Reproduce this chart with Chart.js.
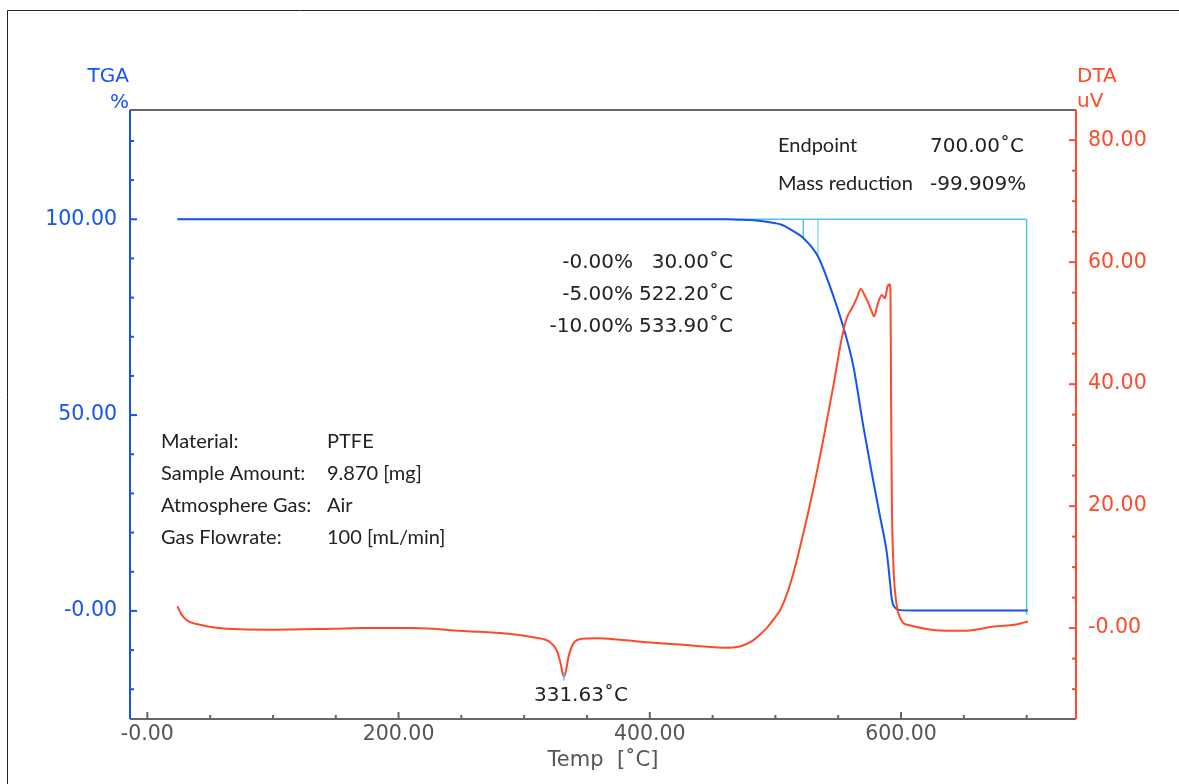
<!DOCTYPE html>
<html>
<head>
<meta charset="utf-8">
<script src="https://cdn.jsdelivr.net/npm/chart.js@4.4.1/dist/chart.umd.min.js"></script>
<style>
  html, body { margin: 0; padding: 0; background: #fff; overflow: hidden; }
  canvas { display: block; }
</style>
</head>
<body>
<canvas id="chart" width="1179" height="784"></canvas>
<script>
// TGA curve: [temp °C, mass %]
const tgaPoints = [
  [23.9, 100], [100, 100], [200, 100], [300, 100], [400, 100], [460, 100],
  [470, 99.9], [480, 99.8], [490, 99.5], [500, 99.0], [505, 98.6], [511.6, 97.5],
  [522.3, 95.2], [533.9, 90.5], [543.5, 82.8], [555.5, 70.9], [562.1, 62.4],
  [570, 47.1], [576.7, 35.2], [583.3, 24.1], [588.7, 14.8], [591.3, 7.1],
  [592.7, 2.9], [595.3, 0.8], [599.3, 0.2], [610, 0.1], [701, 0.1]
];

// DTA curve: [temp °C, uV]
const dtaPoints = [
  [23.9, 3.6], [27, 2.3], [31.4, 1.3], [42, 0.55], [55, 0.05], [74, -0.2],
  [100, -0.25], [148, -0.1], [172, 0], [211, 0], [254, -0.5], [281, -0.8],
  [307, -1.5], [320.6, -2.3], [326, -3.7], [329, -5.8], [331.6, -8.0],
  [333.5, -6.8], [335.2, -4.8], [339.2, -2.5], [345.8, -1.75], [358, -1.65],
  [376, -1.9], [397.5, -2.3], [424, -2.7], [458.5, -3.2], [471.7, -3.0],
  [477, -2.6], [482.3, -2.0], [488, -1.0], [493, 0.0], [498, 1.3], [503.6, 2.9],
  [509, 5.5], [514.3, 9.0], [522.3, 15.6], [530.2, 22.8], [538.2, 31.0],
  [546.2, 39.8], [552.8, 47.5], [556.8, 50.8], [560.8, 52.4], [564.8, 54.1],
  [568, 55.6], [571.4, 54.4], [574, 53.3], [576.5, 52.0], [578.6, 51.1],
  [581.2, 53.0], [584.7, 54.6], [587.3, 54.1], [589.2, 56.0], [590.8, 56.4],
  [591.6, 55.0], [592.1, 37.6], [592.7, 21.1], [594, 10.1], [596.7, 3.6],
  [599, 1.8], [602, 0.8], [606, 0.5], [626, -0.3], [650, -0.45],
  [674, 0.25], [692.7, 0.65], [701, 1.1]
];

// analysis marker lines (cyan)
const baseLine = [[23.9, 100], [700, 100]];
const step5 = [[522.2, 100], [522.2, 95.0]];
const step10 = [[533.9, 100], [533.9, 90.5]];
const endLine = [[700, 100], [700, -1.0]];
const peakMark = [[331.63, -7.2], [331.63, -8.6]];

const xRange = [-13.8, 739.3];
const tgaRange = [-27.6, 127.9];
const dtaRange = [-14.9, 84.95];

const infoLabels = ['Material:', 'Sample Amount:', 'Atmosphere Gas:', 'Gas Flowrate:'];
const infoValues = ['PTFE', '9.870 [mg]', 'Air', '100 [mL/min]'];
const stepPercents = ['-0.00%', '-5.00%', '-10.00%'];
const stepTemps = ['30.00˚C', '522.20˚C', '533.90˚C'];
const endLabels = ['Endpoint', 'Mass reduction'];
const endValues = ['700.00˚C', '-99.909%'];
const peakLabel = '331.63˚C';

const BLUE = '#1553f2';
const RED = '#ff4a2a';
const CYAN = '#4fc3ee';
const GRAY = '#555';
const NUM_FONT = '20px "DejaVu Sans"';
const TXT_FONT = '20px Lato';
const TICK_FONT = { family: 'DejaVu Sans', size: 20.5 };

const xy = pts => pts.map(p => ({ x: p[0], y: p[1] }));
const fmt = v => (v === 0 ? '-0.00' : v.toFixed(2));

function curve(data, axis, color, width) {
  return { data: xy(data), yAxisID: axis, borderColor: color, borderWidth: width,
    showLine: true, pointRadius: 0, fill: false, cubicInterpolationMode: 'monotone' };
}

const axesPlugin = {
  id: 'axesPlugin',
  afterDatasetsDraw(chart) {
    const ctx = chart.ctx;
    const a = chart.chartArea;
    const sx = chart.scales.x, yl = chart.scales.y, yr = chart.scales.y2;
    ctx.save();
    ctx.lineWidth = 2;
    // top frame + bottom axis
    ctx.strokeStyle = '#666';
    ctx.beginPath();
    ctx.moveTo(a.left, a.top); ctx.lineTo(a.right, a.top);
    ctx.moveTo(a.left, a.bottom); ctx.lineTo(a.right, a.bottom);
    ctx.stroke();
    sx.ticks.forEach(t => {
      const px = sx.getPixelForValue(t.value);
      const len = t.value % 200 === 0 ? 7 : 4;
      ctx.beginPath(); ctx.moveTo(px, a.bottom); ctx.lineTo(px, a.bottom - len); ctx.stroke();
    });
    // left axis
    ctx.strokeStyle = BLUE;
    ctx.beginPath(); ctx.moveTo(a.left, a.top); ctx.lineTo(a.left, a.bottom); ctx.stroke();
    yl.ticks.forEach(t => {
      const py = yl.getPixelForValue(t.value);
      const len = t.value % 50 === 0 ? 7 : 4;
      ctx.beginPath(); ctx.moveTo(a.left, py); ctx.lineTo(a.left + len, py); ctx.stroke();
    });
    // right axis
    ctx.strokeStyle = RED;
    ctx.beginPath(); ctx.moveTo(a.right, a.top); ctx.lineTo(a.right, a.bottom); ctx.stroke();
    yr.ticks.forEach(t => {
      const py = yr.getPixelForValue(t.value);
      const len = t.value % 20 === 0 ? 7 : 4;
      ctx.beginPath(); ctx.moveTo(a.right, py); ctx.lineTo(a.right - len, py); ctx.stroke();
    });
    ctx.restore();
  },
  afterDraw(chart) {
    const ctx = chart.ctx;
    const a = chart.chartArea;
    ctx.save();
    // outer frame
    ctx.strokeStyle = '#222';
    ctx.lineWidth = 1;
    ctx.beginPath();
    ctx.moveTo(7.5, 790); ctx.lineTo(7.5, 10.5); ctx.lineTo(1190, 10.5);
    ctx.stroke();

    ctx.font = '20px "DejaVu Sans"';
    ctx.fillStyle = BLUE;
    ctx.textAlign = 'right';
    ctx.fillText('TGA', a.left - 1, 82);
    ctx.fillText('%', a.left - 1, 108);
    ctx.fillStyle = RED;
    ctx.textAlign = 'left';
    ctx.fillText('DTA', a.right + 1, 82);
    ctx.fillText('uV', a.right + 1, 107);
    ctx.fillStyle = GRAY;
    ctx.textAlign = 'center';
    ctx.font = '21px "DejaVu Sans"';
    ctx.fillText('Temp  [˚C]', 603, 766);

    ctx.fillStyle = '#222';
    ctx.font = TXT_FONT;
    ctx.textAlign = 'left';
    endLabels.forEach((s, i) => ctx.fillText(s, 778, 152 + i * 38));
    infoLabels.forEach((s, i) => ctx.fillText(s, 161, 448 + i * 32));
    infoValues.forEach((s, i) => ctx.fillText(s, 327, 448 + i * 32));

    ctx.font = NUM_FONT;
    endValues.forEach((s, i) => ctx.fillText(s, 930, 152 + i * 38));
    ctx.textAlign = 'right';
    stepPercents.forEach((s, i) => ctx.fillText(s, 633, 268 + i * 32));
    stepTemps.forEach((s, i) => ctx.fillText(s, 733, 268 + i * 32));
    ctx.textAlign = 'center';
    ctx.fillText(peakLabel, chart.scales.x.getPixelForValue(331.63) + 17, 701);
    ctx.restore();
  }
};

// Chart.js paints dataset 0 last (on top)
new Chart(document.getElementById('chart'), {
  type: 'scatter',
  data: {
    datasets: [
      curve(peakMark, 'y2', CYAN, 1.5),
      curve(dtaPoints, 'y2', RED, 2),
      curve(tgaPoints, 'y', BLUE, 2),
      curve(step10, 'y', CYAN, 1),
      curve(step5, 'y', CYAN, 1.5),
      curve(endLine, 'y', CYAN, 1.5),
      curve(baseLine, 'y', CYAN, 1.5)
    ]
  },
  options: {
    responsive: false,
    animation: false,
    layout: { padding: { top: 110, left: 0, right: 0, bottom: 0 } },
    plugins: { legend: { display: false }, tooltip: { enabled: false } },
    scales: {
      x: {
        type: 'linear', min: xRange[0], max: xRange[1],
        grid: { display: false, drawTicks: false }, border: { display: false },
        afterFit: s => { s.height = 65; },
        ticks: {
          stepSize: 50, includeBounds: false, autoSkip: false, maxRotation: 0, padding: 3,
          color: GRAY, font: TICK_FONT,
          callback: v => (v % 200 === 0 ? fmt(v) : '')
        }
      },
      y: {
        type: 'linear', position: 'left', min: tgaRange[0], max: tgaRange[1],
        grid: { display: false, drawTicks: false }, border: { display: false },
        afterFit: s => { s.width = 130; },
        ticks: {
          stepSize: 10, includeBounds: false, autoSkip: false, padding: 13,
          color: BLUE, font: TICK_FONT,
          callback: v => (v % 50 === 0 ? fmt(v) : '')
        }
      },
      y2: {
        type: 'linear', position: 'right', min: dtaRange[0], max: dtaRange[1],
        grid: { display: false, drawTicks: false }, border: { display: false },
        afterFit: s => { s.width = 103; },
        ticks: {
          stepSize: 5, includeBounds: false, autoSkip: false, padding: 12,
          color: RED, font: TICK_FONT,
          callback: v => (v % 20 === 0 ? fmt(v) : '')
        }
      }
    }
  },
  plugins: [axesPlugin]
});
</script>
</body>
</html>
